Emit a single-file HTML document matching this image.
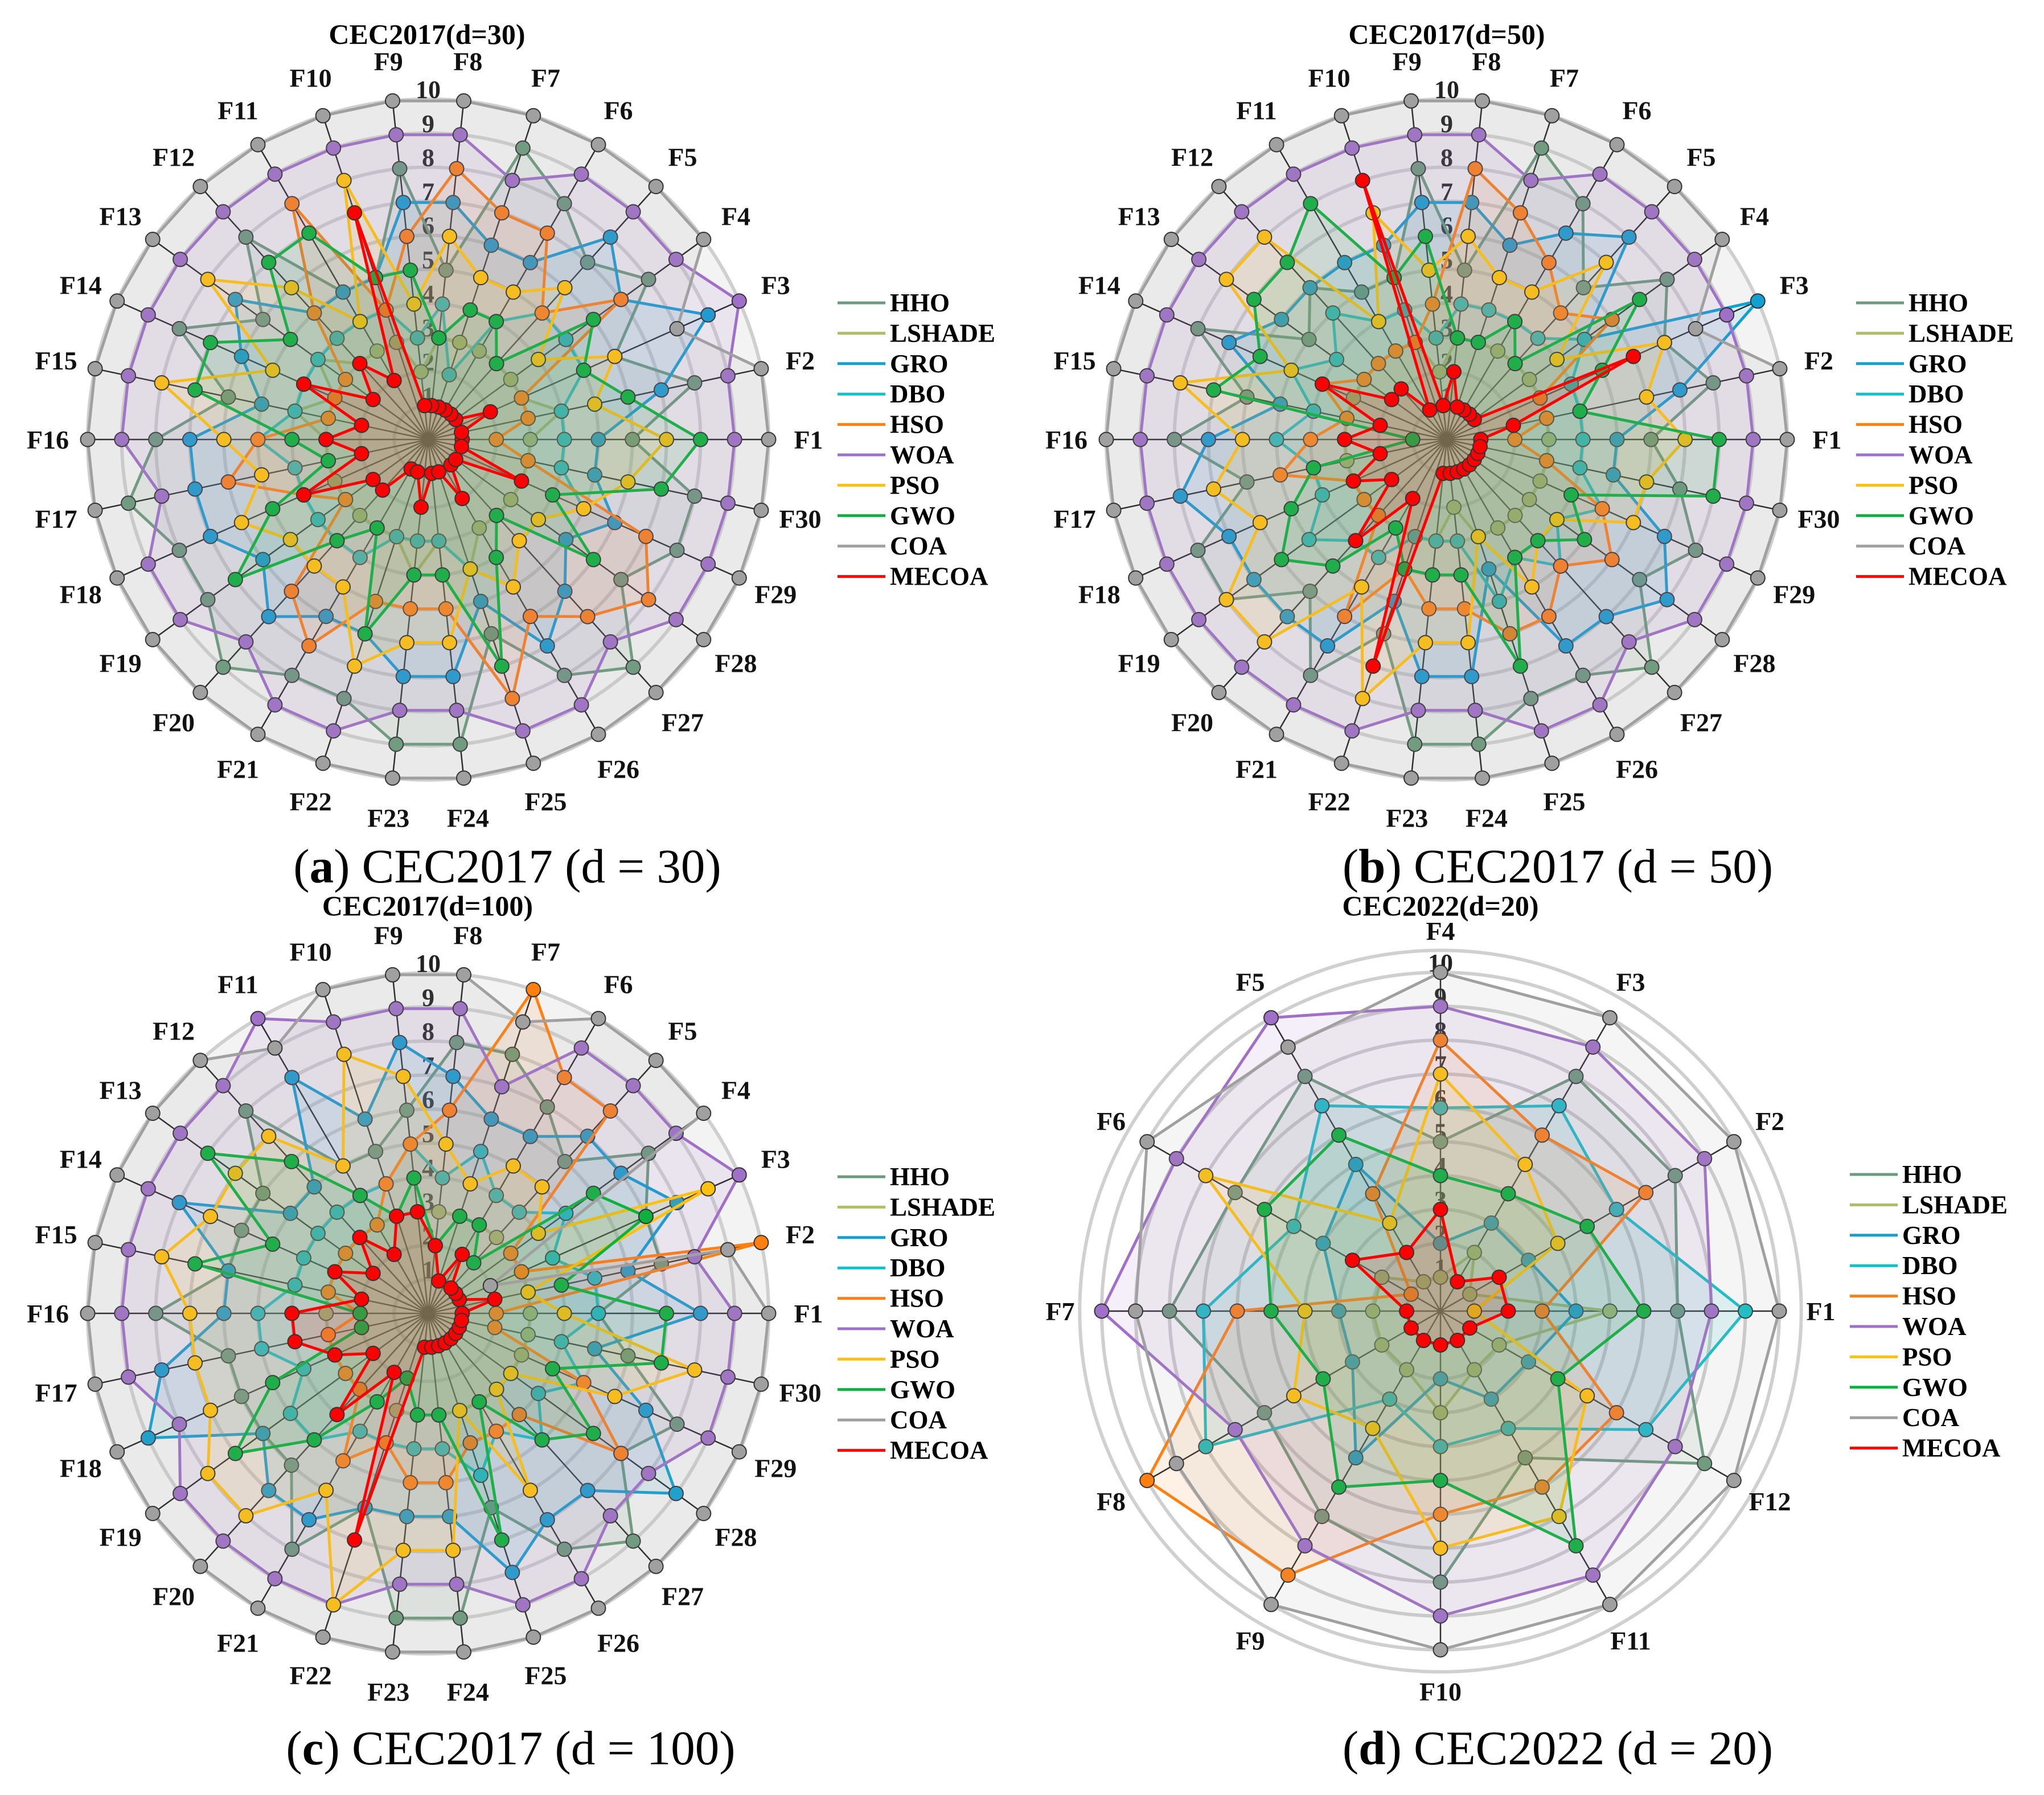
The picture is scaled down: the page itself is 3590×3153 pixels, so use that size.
<!DOCTYPE html>
<html><head><meta charset="utf-8">
<style>
html,body{margin:0;padding:0;background:#fff;}
svg{display:block;}
text{font-family:"Liberation Serif",serif;}
</style></head>
<body>
<svg id="fig" width="3590" height="3153" viewBox="0 0 3590 3153" xmlns="http://www.w3.org/2000/svg">
<rect x="0" y="0" width="3590" height="3153" fill="#fff"/>
<text x="750" y="77" text-anchor="middle" font-size="50" font-weight="bold">CEC2017(d=30)</text>
<text x="2541" y="77" text-anchor="middle" font-size="50" font-weight="bold">CEC2017(d=50)</text>
<text x="751" y="1608" text-anchor="middle" font-size="50" font-weight="bold">CEC2017(d=100)</text>
<text x="2530" y="1608" text-anchor="middle" font-size="50" font-weight="bold">CEC2022(d=20)</text>
<text x="891" y="1550" text-anchor="middle" font-size="85">(<tspan font-weight="bold">a</tspan>) CEC2017 (d = 30)</text>
<text x="2736" y="1550" text-anchor="middle" font-size="85">(<tspan font-weight="bold">b</tspan>) CEC2017 (d = 50)</text>
<text x="897" y="3099" text-anchor="middle" font-size="85">(<tspan font-weight="bold">c</tspan>) CEC2017 (d = 100)</text>
<text x="2736" y="3099" text-anchor="middle" font-size="85">(<tspan font-weight="bold">d</tspan>) CEC2022 (d = 20)</text>
</svg>
<script>
const algNames = ["HHO","LSHADE","GRO","DBO","HSO","WOA","PSO","GWO","COA","MECOA"];
const algColors = ["#6b9b7c","#adbd68","#12a0d0","#14c0c8","#ff8010","#a070c8","#ffc010","#10b040","#a0a0a0","#ff0000"];
const ticks = [1,2,3,4,5,6,7,8,9,10];
const cats30 = Array.from({length:30},(_,i)=>"F"+(i+1));
const cats12 = Array.from({length:12},(_,i)=>"F"+(i+1));

// Chart (a) CEC2017 d=30
const a_HHO    = [6,8,6,8,7,8,9,5,8,5,5,8,6,8,6,8,9,8,8,9,8,8,9,9,6,8,9,7,8,8];
const a_LSHADE = [3,4,3,3,3,3,3,3,2,3,3,3,4,3,4,3,3,3,3,3,3,3,4,3,4,3,3,3,3,3];
const a_GRO    = [5,7,9,7,8,6,6,7,7,5,5,5,7,6,5,7,7,7,6,7,6,6,7,7,5,7,6,5,6,5];
const a_DBO    = [4,4,5,5,5,4,2,4,3,4,4,4,4,4,4,5,4,4,4,4,4,3,3,3,4,5,4,4,5,4];
const a_HSO    = [2,3,3,7,5,7,7,8,6,4,8,5,3,3,3,5,6,4,3,6,7,5,5,5,8,6,7,8,7,3];
const a_WOA    = [9,9,10,9,9,9,8,9,9,9,9,9,9,9,9,9,8,9,9,8,9,9,8,8,9,9,8,9,9,9];
const a_PSO    = [7,5,6,4,6,5,5,6,4,8,4,6,8,5,8,6,5,6,5,5,5,7,6,6,4,5,4,4,5,6];
const a_GWO    = [8,6,5,6,3,4,4,3,5,5,7,7,5,7,7,4,3,5,7,4,3,6,4,4,7,4,3,6,4,7];
const a_COA    = [10,10,8,10,10,10,10,10,10,10,10,10,10,10,10,10,10,10,10,10,10,10,10,10,10,10,10,10,10,10];
const a_MECOA  = [1,1,2,1,1,1,1,1,1,7,2,3,2,4,2,3,2,4,2,2,1,1,2,1,1,2,1,1,3,1];

// Chart (b) CEC2017 d=50
const b_HHO    = [6,8,7,8,6,8,9,5,8,5,5,6,5,8,6,8,6,8,8,6,8,6,9,9,8,8,9,7,8,7];
const b_LSHADE = [3,3,3,3,3,3,3,3,2,3,3,3,3,3,3,3,3,3,3,3,3,3,3,2,3,3,3,3,3,3];
const b_GRO    = [5,7,10,5,8,7,6,7,7,6,6,6,6,7,5,7,8,7,7,7,7,5,7,7,4,7,7,8,7,5];
const b_DBO    = [4,4,4,5,4,4,4,4,3,4,4,5,4,5,4,5,4,4,5,4,4,3,3,3,5,4,5,4,5,4];
const b_HSO    = [2,3,3,6,5,6,7,8,4,3,3,3,3,4,3,4,5,3,3,3,6,4,5,5,6,6,5,6,5,3];
const b_WOA    = [9,9,9,9,9,9,8,9,9,9,9,9,9,9,9,9,9,9,9,9,9,9,8,8,9,9,8,9,9,9];
const b_PSO    = [7,6,7,4,7,5,5,6,5,7,4,8,8,5,8,6,7,6,8,8,5,8,6,6,3,5,4,4,6,6];
const b_GWO    = [8,4,5,7,3,4,3,3,6,5,8,7,7,6,7,1,4,5,6,5,3,4,4,4,7,4,4,5,4,8];
const b_COA    = [10,10,8,10,10,10,10,10,10,10,10,10,10,10,10,10,10,10,10,10,10,10,10,10,10,10,10,10,10,10];
const b_MECOA  = [1,2,6,1,1,1,1,2,1,8,1,2,2,4,2,3,2,3,2,4,2,7,1,1,1,1,1,1,1,1];

// Chart (c) CEC2017 d=100
const c_HHO    = [5,7,7,8,6,7,8,8,6,5,5,8,6,6,6,8,6,6,6,6,8,6,9,9,6,8,9,7,8,6];
const c_LSHADE = [3,3,3,3,3,3,3,3,3,3,3,3,3,3,3,3,3,3,3,3,3,3,3,3,3,3,3,3,3,3];
const c_GRO    = [8,6,8,7,7,6,6,7,8,6,8,5,5,8,6,6,8,9,6,7,7,6,6,6,8,7,7,9,7,5];
const c_DBO    = [5,5,4,5,4,4,5,4,5,4,4,4,4,4,4,5,5,4,5,5,4,4,4,4,5,4,5,4,5,4];
const c_HSO    = [2,10,3,3,8,8,10,6,5,4,3,3,3,3,3,2,3,3,3,3,5,4,5,5,4,4,4,7,5,2];
const c_WOA    = [9,8,10,9,9,9,7,9,9,9,10,9,9,9,9,9,9,8,9,9,9,9,8,8,9,9,8,8,9,9];
const c_PSO    = [4,3,9,4,5,5,4,5,7,8,5,7,7,7,8,7,7,7,8,8,6,9,7,7,3,6,3,3,6,8];
const c_GWO    = [7,4,7,6,2,3,3,2,4,3,4,6,8,5,7,2,2,5,7,5,3,2,3,3,7,3,5,6,4,7];
const c_COA    = [10,9,2,10,10,10,9,10,10,10,9,10,10,10,10,10,10,10,10,10,10,10,10,10,10,10,10,10,10,10];
const c_MECOA  = [1,2,1,1,1,2,1,2,3,3,2,3,2,3,2,4,4,3,2,4,2,7,1,1,1,1,1,1,1,1];

// Chart (d) CEC2022 d=20
const d_HHO    = [7,8,8,5,8,7,8,6,7,8,5,9];
const d_LSHADE = [5,1,2,1,1,2,2,2,2,3,2,2];
const d_GRO    = [4,3,3,2,5,4,3,3,5,2,3,3];
const d_DBO    = [9,6,7,6,7,5,7,8,3,4,4,7];
const d_HSO    = [3,7,6,8,4,1,6,10,9,6,6,6];
const d_WOA    = [8,9,9,9,10,9,10,7,8,9,9,8];
const d_PSO    = [1,4,5,7,3,8,4,5,4,7,7,5];
const d_GWO    = [6,5,4,4,6,6,5,4,6,5,8,4];
const d_COA    = [10,10,10,10,9,10,9,9,10,10,10,10];
const d_MECOA  = [2,2,1,3,2,3,1,1,1,1,1,1];

const NS = "http://www.w3.org/2000/svg";
const fig = document.getElementById("fig");
function mk(tag, parent){ const e=document.createElementNS(NS,tag); parent.appendChild(e); return e; }

function drawRadar(id, cx, cy, unit, cats, seriesVals, shaded){
  const g = mk("g", fig);
  
  
  const n = cats.length;
  const ang = i => i * 2 * Math.PI / n;
  const rScale = v => v * unit;
  const px = (i, v) => cx + rScale(v) * Math.cos(ang(i));
  const py = (i, v) => cy - rScale(v) * Math.sin(ang(i));
  if (shaded) {
    const bg = mk("circle", g);
    
    
    bg.setAttribute("cx", cx); bg.setAttribute("cy", cy); bg.setAttribute("r", rScale(10));
    bg.setAttribute("fill", "#f3f3f3");
  } else {
    const oc = mk("circle", g);
    
    
    oc.setAttribute("cx", cx); oc.setAttribute("cy", cy); oc.setAttribute("r", rScale(10.65));
    oc.setAttribute("fill", "none"); oc.setAttribute("stroke", "#d0d0d0"); oc.setAttribute("stroke-width", "6");
  }
  ticks.forEach(t => {
    const c = mk("circle", g);
    
    
    c.setAttribute("cx", cx); c.setAttribute("cy", cy); c.setAttribute("r", rScale(t));
    c.setAttribute("fill", "none"); c.setAttribute("stroke", "#cfcfcf"); c.setAttribute("stroke-width", "6");
  });
  for (let i = 0; i < n; i++) {
    const l = mk("line", g);
    
    
    l.setAttribute("x1", cx); l.setAttribute("y1", cy);
    l.setAttribute("x2", px(i, 10)); l.setAttribute("y2", py(i, 10));
    l.setAttribute("stroke", "#222"); l.setAttribute("stroke-width", "2.5");
  }
  ticks.forEach(t => {
    const tx = mk("text", g);
    
    
    tx.setAttribute("x", cx); tx.setAttribute("y", cy - rScale(t) - 2);
    tx.setAttribute("text-anchor", "middle"); tx.setAttribute("font-size", "44");
    tx.setAttribute("font-weight", "bold"); tx.setAttribute("fill", "#222");
    tx.textContent = String(t);
  });
  seriesVals.forEach((vals, s) => {
    const col = algColors[s];
    const sg = mk("g", g);
    
    
    const pts = vals.map((v, i) => px(i, v).toFixed(1) + "," + py(i, v).toFixed(1)).join(" ");
    const pg = mk("polygon", sg);
    
    
    pg.setAttribute("points", pts);
    pg.setAttribute("fill", col); pg.setAttribute("fill-opacity", "0.11");
    pg.setAttribute("stroke", col); pg.setAttribute("stroke-width", "5"); pg.setAttribute("stroke-linejoin", "round");
    vals.forEach((v, i) => {
      const d = mk("circle", sg);
      
      
      d.setAttribute("cx", px(i, v)); d.setAttribute("cy", py(i, v)); d.setAttribute("r", "12.5");
      d.setAttribute("fill", col); d.setAttribute("stroke", "#333"); d.setAttribute("stroke-width", "2");
    });
  });
  for (let i = 0; i < n; i++) {
    const tx = mk("text", g);
    
    
    tx.setAttribute("x", cx + 668 * Math.cos(ang(i)));
    tx.setAttribute("y", cy - 668 * Math.sin(ang(i)) + 16);
    tx.setAttribute("text-anchor", "middle"); tx.setAttribute("font-size", "46");
    tx.setAttribute("font-weight", "bold"); tx.setAttribute("fill", "#111");
    tx.textContent = cats[i];
  }
  const lg = mk("g", g);
  
  
  algNames.forEach((nm, k) => {
    const y = cy - 240 + k * 53.4;
    const ln = mk("line", lg);
    
    
    ln.setAttribute("x1", cx + 719); ln.setAttribute("x2", cx + 803);
    ln.setAttribute("y1", y); ln.setAttribute("y2", y);
    ln.setAttribute("stroke", algColors[k]); ln.setAttribute("stroke-width", "5");
    const t = mk("text", lg);
    
    
    t.setAttribute("x", cx + 811); t.setAttribute("y", y + 15);
    t.setAttribute("font-size", "45"); t.setAttribute("font-weight", "bold");
    t.textContent = nm;
  });
}

drawRadar("a", 752, 772, 59.8, cats30, [a_HHO,a_LSHADE,a_GRO,a_DBO,a_HSO,a_WOA,a_PSO,a_GWO,a_COA,a_MECOA], true);
drawRadar("b", 2541, 772, 59.8, cats30, [b_HHO,b_LSHADE,b_GRO,b_DBO,b_HSO,b_WOA,b_PSO,b_GWO,b_COA,b_MECOA], true);
drawRadar("c", 752, 2307, 59.8, cats30, [c_HHO,c_LSHADE,c_GRO,c_DBO,c_HSO,c_WOA,c_PSO,c_GWO,c_COA,c_MECOA], true);
drawRadar("d", 2530, 2303, 59.5, cats12, [d_HHO,d_LSHADE,d_GRO,d_DBO,d_HSO,d_WOA,d_PSO,d_GWO,d_COA,d_MECOA], false);
</script>
</body></html>
